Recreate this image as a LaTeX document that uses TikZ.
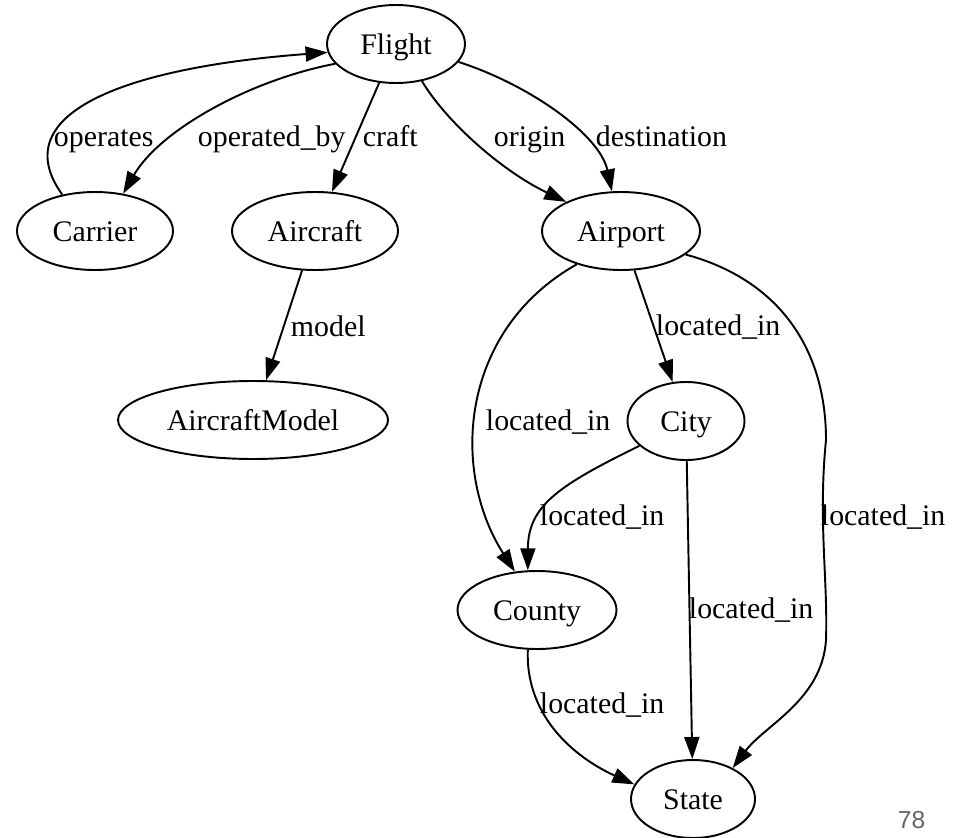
\documentclass[tikz,border=0pt]{standalone}
\usepackage{fontspec}
\setmainfont{Liberation Serif}
\newfontfamily\slidefont{Liberation Sans}
\usetikzlibrary{shapes.geometric}
\usetikzlibrary{arrows.meta}
\tikzset{every picture/.style={line width=1.1pt,x=0.02cm,y=-0.02cm}}

\begin{document}
\begin{tikzpicture}[ent/.style={ellipse, draw, inner sep=0pt, minimum height=1.56cm, text height=14pt, text depth=1.8pt, font=\fontsize{17}{20}\selectfont},
rel/.style={-{Triangle[length=0.44cm,width=0.3cm]}},
lbl/.style={anchor=base west, inner sep=0pt, font=\fontsize{17}{20}\selectfont}]
\useasboundingbox (0,0) rectangle (953,838);
\foreach \n/\x/\y/\w/\t in {flight/396/44/138/Flight,carrier/95/231/156/Carrier,aircraft/315/231/166/Aircraft,airport/621/231/158/Airport,model/253/420/270/AircraftModel,city/686/421/117/City,county/537/610/159/County,state/693/799/124/State} {
\node (\n) at (\x,\y) [ent, minimum width=\w*0.02cm] {\t};
}
\draw[rel] (carrier.132) .. controls (5,115) and (120,68) .. (flight.187);
\draw[rel] (flight.198) .. controls (250,80) and (160,130) .. (carrier.53);
\draw[rel] (flight) -- (aircraft);
\draw[rel] (flight.305) .. controls (445,120) and (500,170) .. (airport.152);
\draw[rel] (flight.344) .. controls (530,85) and (600,135) .. (airport.103);
\draw[rel] (aircraft) -- (model);
\draw[rel] (airport) -- (city);
\draw[rel] (airport.217) .. controls (460,330) and (450,470) .. (county.120);
\draw[rel] (airport.340) .. controls (780,280) and (826,350) .. (826,440) .. controls (818,520) and (828,580) .. (826,640) .. controls (822,700) and (765,725) .. (state.38);
\draw[rel] (city.208) .. controls (560,485) and (528,505) .. (county.103);
\draw[rel] (city) -- (state);
\draw[rel] (county.257) .. controls (525,720) and (580,760) .. (state.166);
\foreach \x/\y/\t [count=\k] in {53/147/operates,197/147/operated\_by,362/147/craft,493/147/origin,595/147/destination,290/336/model,655/335/located\_in,485/430/located\_in,539/525/located\_in,820/525/located\_in,688/618/located\_in,539/713/located\_in} {
\node (lab\k) at (\x,\y) [lbl] {\t};
}
\node (slide) at (897,810) [anchor=north west, inner sep=0pt, font=\slidefont\fontsize{14}{17}\selectfont, text=black!60] {78};
\end{tikzpicture}
\end{document}
